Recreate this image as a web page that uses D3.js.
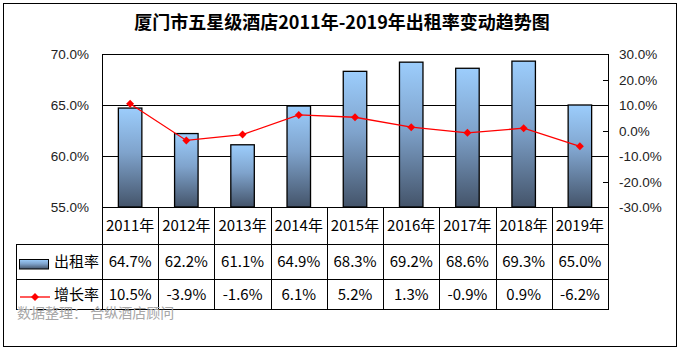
<!DOCTYPE html>
<html><head><meta charset="utf-8">
<script src="https://cdn.jsdelivr.net/npm/d3@7"></script>
<style>body{margin:0;background:#fff}svg{display:block}</style>
</head><body>
<script>
const categories = ["2011年","2012年","2013年","2014年","2015年","2016年","2017年","2018年","2019年"];
const occupancy = [64.7, 62.2, 61.1, 64.9, 68.3, 69.2, 68.6, 69.3, 65.0];
const growth = [10.5, -3.9, -1.6, 6.1, 5.2, 1.3, -0.9, 0.9, -6.2];
const leftTicks = [55, 60, 65, 70];
const rightTicks = [-30, -20, -10, 0, 10, 20, 30];
const seriesNames = ["出租率", "增长率"];
const title = "厦门市五星级酒店2011年-2019年出租率变动趋势图";
const source = "数据整理： 合纵酒店顾问";

const W = 681, H = 350;
const svg = d3.select("body").append("svg").attr("width", W).attr("height", H);
const defs = svg.append("defs");
const grad = defs.append("linearGradient").attr("id","barGrad").attr("x1",0).attr("y1",0).attr("x2",0).attr("y2",1);
grad.append("stop").attr("offset","0%").attr("stop-color","#9ccdfc");
grad.append("stop").attr("offset","45%").attr("stop-color","#7fa3cc");
grad.append("stop").attr("offset","100%").attr("stop-color","#44546a");

const L = 102, R = 608, T = 54, B = 207;
const rowY = [207, 244, 279, 309];
const tableLeft = 16;

svg.append("rect").attr("x",3.5).attr("y",3.5).attr("width",673).attr("height",343)
  .attr("fill","#fff").attr("stroke","#000").attr("stroke-width",1);

svg.append("text").attr("x",342).attr("y",29).attr("text-anchor","middle")
  .attr("font-family","'Noto Sans CJK SC', sans-serif").attr("font-weight","bold")
  .attr("font-size",18).attr("fill","#000").text(title);

const x = d3.scaleBand().domain(categories).range([L, R]).padding(0);
const yL = d3.scaleLinear().domain([55, 70]).range([B, T]);
const yR = d3.scaleLinear().domain([-30, 30]).range([B, T]);

// gridlines
svg.append("g").selectAll("line").data(leftTicks).join("line")
  .attr("x1",L).attr("x2",R).attr("y1",d=>Math.round(yL(d))+0.5).attr("y2",d=>Math.round(yL(d))+0.5)
  .attr("stroke","#000").attr("stroke-width",1);

// plot border
svg.append("line").attr("x1",L+0.5).attr("x2",L+0.5).attr("y1",T).attr("y2",rowY[3]).attr("stroke","#000");
svg.append("line").attr("x1",R+0.5).attr("x2",R+0.5).attr("y1",T).attr("y2",rowY[3]+0.5).attr("stroke","#000");

// left axis labels
svg.append("g").selectAll("text").data(leftTicks).join("text")
  .attr("x",89).attr("y",d=>yL(d)+5).attr("text-anchor","end")
  .attr("font-family","'Liberation Sans', Arial, sans-serif").attr("font-size",13.5).attr("fill","#222")
  .text(d=>d.toFixed(1)+"%");

// right axis labels & inner ticks
svg.append("g").selectAll("text").data(rightTicks).join("text")
  .attr("x",619).attr("y",d=>yR(d)+5).attr("text-anchor","start")
  .attr("font-family","'Liberation Sans', Arial, sans-serif").attr("font-size",13.5).attr("fill","#222")
  .text(d=>d.toFixed(1)+"%");
svg.append("g").selectAll("line").data(rightTicks).join("line")
  .attr("x1",R-5).attr("x2",R).attr("y1",d=>Math.round(yR(d))+0.5).attr("y2",d=>Math.round(yR(d))+0.5)
  .attr("stroke","#000");

// bars
const bw = 23.5;
svg.append("g").selectAll("rect").data(occupancy).join("rect")
  .attr("x",(d,i)=>x(categories[i])+x.bandwidth()/2-bw/2)
  .attr("y",d=>yL(d)).attr("width",bw).attr("height",d=>B-yL(d))
  .attr("fill","url(#barGrad)").attr("stroke","#000").attr("stroke-width",1.3);

// line
const cx = (i)=>x(categories[i])+x.bandwidth()/2;
svg.append("path").datum(growth)
  .attr("d", d3.line().x((d,i)=>cx(i)).y(d=>yR(d)))
  .attr("fill","none").attr("stroke","#ff0000").attr("stroke-width",1.3);
const diamond = d3.symbol().type(d3.symbolDiamond2).size(40);
svg.append("g").selectAll("path").data(growth).join("path")
  .attr("transform",(d,i)=>`translate(${cx(i)},${yR(d)})`)
  .attr("d",diamond).attr("fill","#ff0000");

// table lines
const tg = svg.append("g").attr("stroke","#000").attr("stroke-width",1);
[rowY[0]].forEach(y=>tg.append("line").attr("x1",L).attr("x2",R).attr("y1",y+0.5).attr("y2",y+0.5));
[rowY[1], rowY[2], rowY[3]].forEach(y=>tg.append("line").attr("x1",tableLeft).attr("x2",R+1).attr("y1",y+0.5).attr("y2",y+0.5));
tg.append("line").attr("x1",tableLeft+0.5).attr("x2",tableLeft+0.5).attr("y1",rowY[1]).attr("y2",rowY[3]);
categories.forEach((c,i)=>{
  if(i>0){ const xx = Math.round(x(c))+0.5;
    tg.append("line").attr("x1",xx).attr("x2",xx).attr("y1",B).attr("y2",rowY[3]); }
});

const tfont = "'Noto Sans CJK SC', 'Microsoft YaHei', sans-serif";
const tsize = 15;
// header row
svg.append("g").selectAll("text").data(categories).join("text")
  .attr("x",(d)=>x(d)+x.bandwidth()/2).attr("y",(rowY[0]+rowY[1])/2+5.5)
  .attr("text-anchor","middle").attr("font-family",tfont).attr("font-size",tsize).attr("fill","#000").text(d=>d);
svg.append("g").selectAll("text").data(occupancy).join("text")
  .attr("x",(d,i)=>cx(i)).attr("y",(rowY[1]+rowY[2])/2+5.5)
  .attr("text-anchor","middle").attr("font-family",tfont).attr("font-size",tsize).attr("fill","#000").text(d=>d.toFixed(1)+"%");
svg.append("g").selectAll("text").data(growth).join("text")
  .attr("x",(d,i)=>cx(i)).attr("y",(rowY[2]+rowY[3])/2+5.5)
  .attr("text-anchor","middle").attr("font-family",tfont).attr("font-size",tsize).attr("fill","#000").text(d=>d.toFixed(1)+"%");

// legend keys
svg.append("rect").attr("x",19.5).attr("y",259.5).attr("width",29).attr("height",9.5)
  .attr("fill","url(#barGrad)").attr("stroke","#000").attr("stroke-width",1);
svg.append("text").attr("x",54).attr("y",(rowY[1]+rowY[2])/2+5.5).attr("font-family",tfont).attr("font-size",tsize).attr("fill","#000").text(seriesNames[0]);
svg.append("line").attr("x1",20).attr("x2",50).attr("y1",297).attr("y2",297).attr("stroke","#ff0000").attr("stroke-width",1.3);
svg.append("path").attr("transform","translate(35,297)").attr("d",diamond).attr("fill","#ff0000");
svg.append("text").attr("x",54).attr("y",(rowY[2]+rowY[3])/2+5.5).attr("font-family",tfont).attr("font-size",tsize).attr("fill","#000").text(seriesNames[1]);

// source
svg.append("text").attr("x",17).attr("y",318).attr("font-family",tfont).attr("font-size",14).attr("fill","#a6a6a6").text(source);
</script>
</body></html>
